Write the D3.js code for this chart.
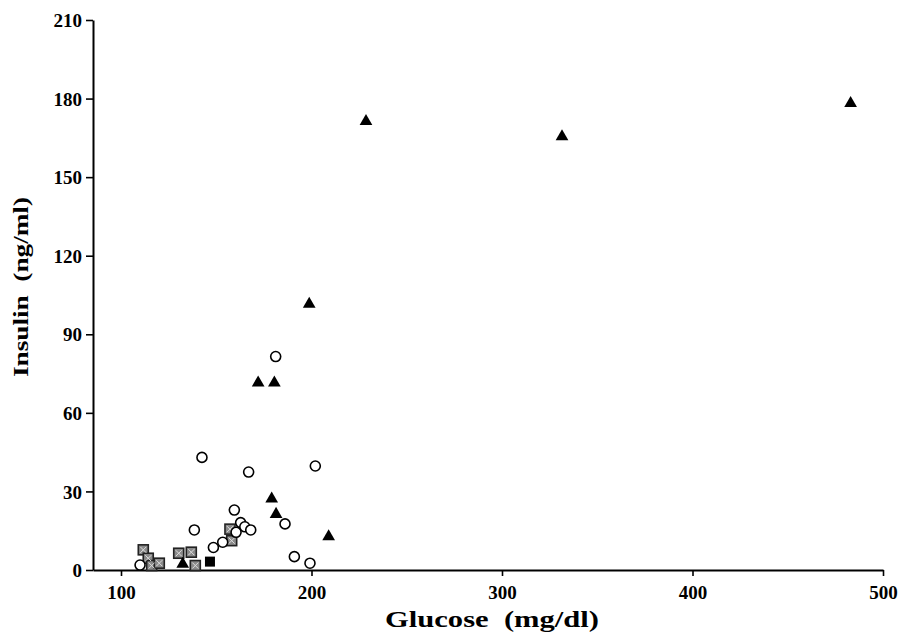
<!DOCTYPE html>
<html>
<head>
<meta charset="utf-8">
<script src="https://cdn.jsdelivr.net/npm/d3@7"></script>
<style>
  body { margin: 0; background: #fff; }
  text { font-family: "Liberation Serif", "DejaVu Serif", serif; font-weight: bold; }
</style>
</head>
<body>
<div id="chart"></div>
<script>
// values
const xTicks = [100, 200, 300, 400, 500];
const yTicks = [0, 30, 60, 90, 120, 150, 180, 210];

const circleX = [110, 138.5, 142.5, 148.5, 153.4, 159.5, 160.4, 162.8, 165, 167, 168.1, 181.2, 186.1, 191, 199.2, 202];
const circleY = [1.9, 15.3, 43, 8.6, 10.6, 22.9, 14.4, 18.1, 16.5, 37.4, 15.3, 81.5, 17.6, 5.1, 2.6, 39.7];

const triangleX = [132.4, 172, 179.1, 180.5, 181.4, 198.8, 209, 228.6, 331.5, 483];
const triangleY = [2.3, 71.5, 27.2, 71.5, 21.3, 101.5, 12.8, 171.3, 165.5, 178.2];

const squareX = [111.7, 114.3, 116.1, 120.1, 130.3, 136.9, 139, 157.2, 158.1];
const squareY = [7.7, 4.5, 1.7, 2.6, 6.4, 6.8, 1.7, 15.6, 11.2];

const solidSquareX = [146.7];
const solidSquareY = [3.2];

const width = 898;
const height = 634;
const margin = { top: 20, right: 15, bottom: 64, left: 93 };

const svg = d3.select('#chart')
  .append('svg')
  .attr('width', width)
  .attr('height', height);

const x = d3.scaleLinear()
  .domain([85.3, 500])
  .range([margin.left, width - margin.right]);

const y = d3.scaleLinear()
  .domain([0, 210])
  .range([height - margin.bottom, margin.top]);

// axes
const xAxis = svg.append('g')
  .attr('transform', `translate(0,${height - margin.bottom})`)
  .call(d3.axisBottom(x).tickValues(xTicks).tickSize(6).tickSizeOuter(0));

const yAxis = svg.append('g')
  .attr('transform', `translate(${margin.left},0)`)
  .call(d3.axisLeft(y).tickValues(yTicks).tickSize(7).tickSizeOuter(0));

[xAxis, yAxis].forEach(g => {
  g.attr('font-family', null).attr('font-size', null);
  g.select('.domain').attr('stroke', '#000').attr('stroke-width', 2);
  g.selectAll('.tick line').attr('stroke', '#000').attr('stroke-width', 1.6);
  g.selectAll('.tick text')
    .attr('fill', '#000')
    .style('font-size', '19px');
});
xAxis.selectAll('.tick text').attr('y', 16).attr('dy', '0.71em');
yAxis.selectAll('.tick text').attr('x', -11).attr('dy', '0.35em');

// titles
svg.append('text')
  .attr('x', 492)
  .attr('y', 627)
  .attr('text-anchor', 'middle')
  .attr('textLength', 214)
  .attr('lengthAdjust', 'spacingAndGlyphs')
  .style('font-size', '23px')
  .style('white-space', 'pre')
  .text('Glucose  (mg/dl)');

svg.append('text')
  .attr('transform', 'translate(28,287) rotate(-90)')
  .attr('text-anchor', 'middle')
  .attr('textLength', 180)
  .attr('lengthAdjust', 'spacingAndGlyphs')
  .style('font-size', '22px')
  .style('white-space', 'pre')
  .text('Insulin  (ng/ml)');

// markers
const plot = svg.append('g');

plot.selectAll('rect.hatched')
  .data(d3.zip(squareX, squareY))
  .join('rect')
  .attr('class', 'hatched')
  .attr('x', d => x(d[0]) - 5)
  .attr('y', d => y(d[1]) - 5)
  .attr('width', 10)
  .attr('height', 10)
  .attr('fill', '#8a8a8a')
  .attr('stroke', '#222')
  .attr('stroke-width', 1.6);

plot.selectAll('path.cross')
  .data(d3.zip(squareX, squareY))
  .join('path')
  .attr('class', 'cross')
  .attr('d', d => {
    const cx = x(d[0]), cy = y(d[1]);
    return `M${cx - 3},${cy - 3}L${cx + 3},${cy + 3}M${cx + 3},${cy - 3}L${cx - 3},${cy + 3}`;
  })
  .attr('stroke', '#ddd')
  .attr('stroke-width', 1);

plot.selectAll('rect.solid')
  .data(d3.zip(solidSquareX, solidSquareY))
  .join('rect')
  .attr('class', 'solid')
  .attr('x', d => x(d[0]) - 5)
  .attr('y', d => y(d[1]) - 5)
  .attr('width', 10)
  .attr('height', 10)
  .attr('fill', '#000');

plot.selectAll('circle')
  .data(d3.zip(circleX, circleY))
  .join('circle')
  .attr('cx', d => x(d[0]))
  .attr('cy', d => y(d[1]))
  .attr('r', 5)
  .attr('fill', '#fff')
  .attr('stroke', '#000')
  .attr('stroke-width', 1.6);

const tri = d3.symbol().type(d3.symbolTriangle).size(70);
plot.selectAll('path.tri')
  .data(d3.zip(triangleX, triangleY))
  .join('path')
  .attr('class', 'tri')
  .attr('d', tri)
  .attr('transform', d => `translate(${x(d[0])},${y(d[1])})`)
  .attr('fill', '#000');
</script>
</body>
</html>
